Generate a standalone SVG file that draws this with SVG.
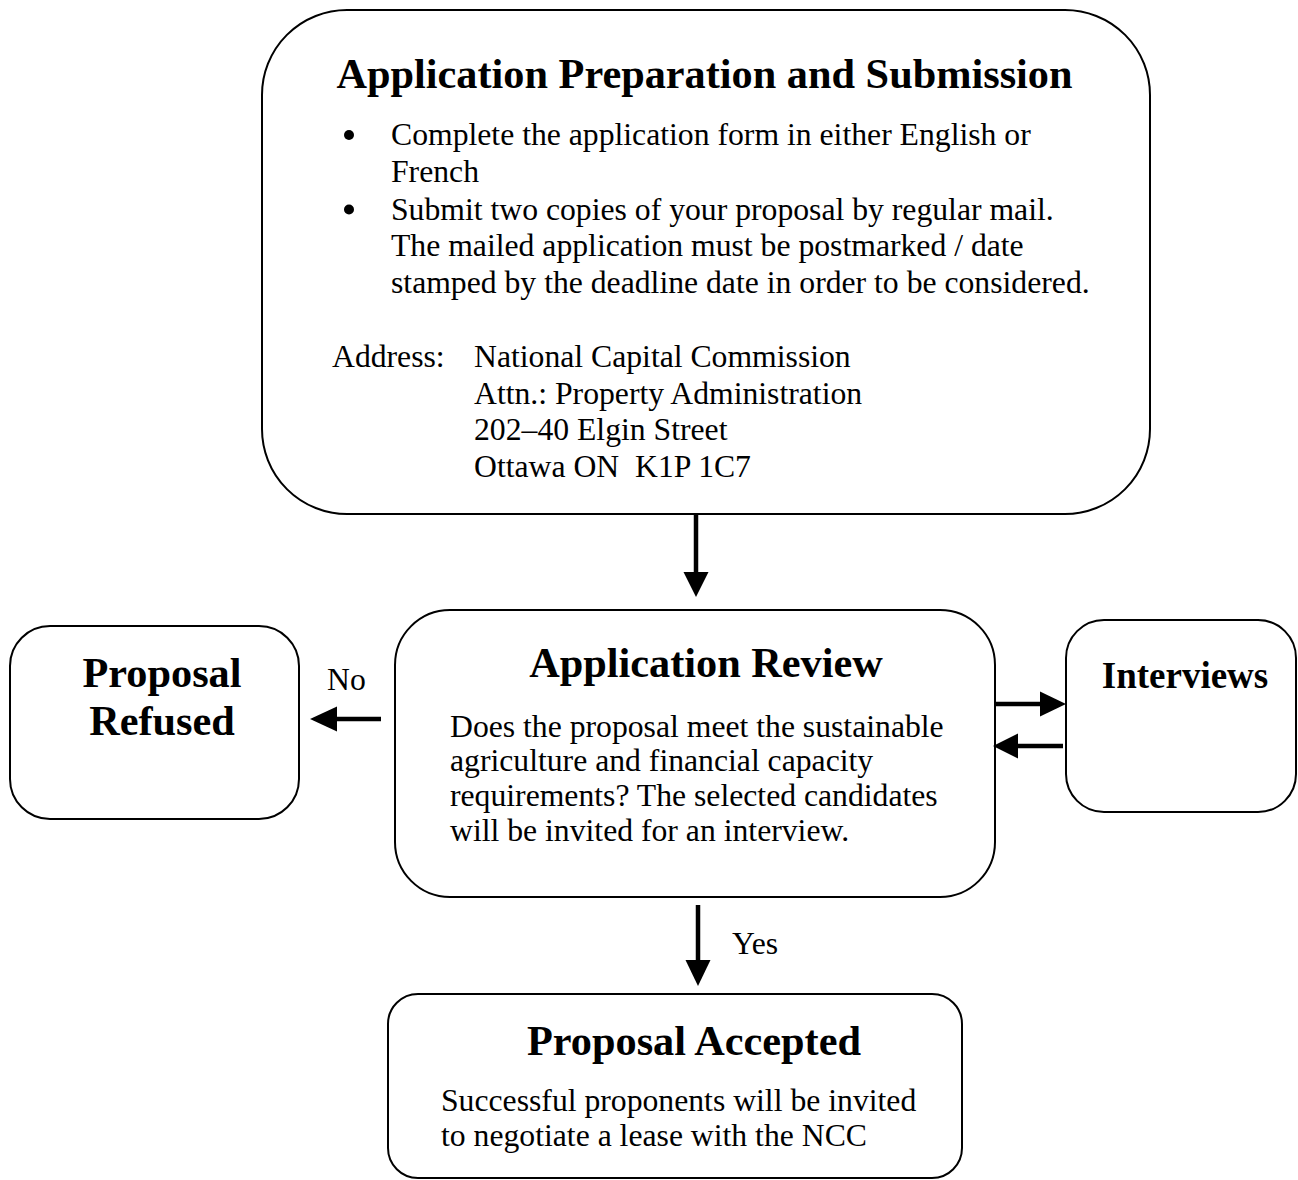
<svg xmlns="http://www.w3.org/2000/svg" width="1298" height="1180" viewBox="0 0 1298 1180">
<style>
.box{fill:#fff;stroke:#000;stroke-width:2}
.t{font-family:"Liberation Serif","Times New Roman",serif;fill:#000}
.h{font-size:42.3px;font-weight:bold;text-anchor:middle}
.b{font-size:31.7px}
.c{stroke:#000;stroke-width:4.5;fill:none}
.ah{fill:#000;stroke:none}
</style>
<rect width="1298" height="1180" fill="#fff"/>
<g id="node-submission">
<rect class="box" x="262" y="10" width="888" height="504" rx="85" ry="85"/>
<text class="t h" x="704.5" y="88">Application Preparation and Submission</text>
<circle cx="349" cy="135" r="5" fill="#000"/>
<circle cx="349" cy="209.5" r="5" fill="#000"/>
<text class="t b" x="391" y="145">Complete the application form in either English or</text>
<text class="t b" x="391" y="181.5">French</text>
<text class="t b" x="391" y="219.5">Submit two copies of your proposal by regular mail.</text>
<text class="t b" x="391" y="256">The mailed application must be postmarked / date</text>
<text class="t b" x="391" y="292.5">stamped by the deadline date in order to be considered.</text>
<text class="t b" x="332" y="367">Address:</text>
<text class="t b" x="474" y="367">National Capital Commission</text>
<text class="t b" x="474" y="403.5">Attn.: Property Administration</text>
<text class="t b" x="474" y="440">202–40 Elgin Street</text>
<text class="t b" x="474" y="476.5" xml:space="preserve">Ottawa ON  K1P 1C7</text>
</g>
<g id="node-review">
<rect class="box" x="395" y="610" width="600" height="287" rx="55" ry="55"/>
<text class="t h" x="706" y="677">Application Review</text>
<text class="t b" x="450" y="736.5">Does the proposal meet the sustainable</text>
<text class="t b" x="450" y="771">agriculture and financial capacity</text>
<text class="t b" x="450" y="806">requirements? The selected candidates</text>
<text class="t b" x="450" y="840.5">will be invited for an interview.</text>
</g>
<g id="node-refused">
<rect class="box" x="10" y="626" width="289" height="193" rx="40" ry="40"/>
<text class="t h" x="162" y="687">Proposal</text>
<text class="t h" x="162" y="735">Refused</text>
</g>
<g id="node-interviews">
<rect class="box" x="1066" y="620" width="230" height="192" rx="38" ry="38"/>
<text class="t" x="1185" y="688" font-size="37" font-weight="bold" text-anchor="middle">Interviews</text>
</g>
<g id="node-accepted">
<rect class="box" x="388" y="994" width="574" height="184" rx="30" ry="30"/>
<text class="t h" x="694" y="1055">Proposal Accepted</text>
<text class="t b" x="441" y="1111">Successful proponents will be invited</text>
<text class="t b" x="441" y="1146">to negotiate a lease with the NCC</text>
</g>
<g id="connectors">
<line class="c" x1="696" y1="515" x2="696" y2="574"/>
<polygon class="ah" points="683.5,572 708.5,572 696,597"/>
<line class="c" x1="381" y1="719" x2="335" y2="719"/>
<polygon class="ah" points="337,706.5 337,731.5 310,719"/>
<text class="t b" x="327" y="690">No</text>
<line class="c" x1="995" y1="704" x2="1042" y2="704"/>
<polygon class="ah" points="1040,691.5 1040,716.5 1066,704"/>
<line class="c" x1="1063" y1="746" x2="1016" y2="746"/>
<polygon class="ah" points="1018,733.5 1018,758.5 993,746"/>
<line class="c" x1="698" y1="905" x2="698" y2="962"/>
<polygon class="ah" points="685.5,960 710.5,960 698,986"/>
<text class="t b" x="732" y="954">Yes</text>
</g>
</svg>
